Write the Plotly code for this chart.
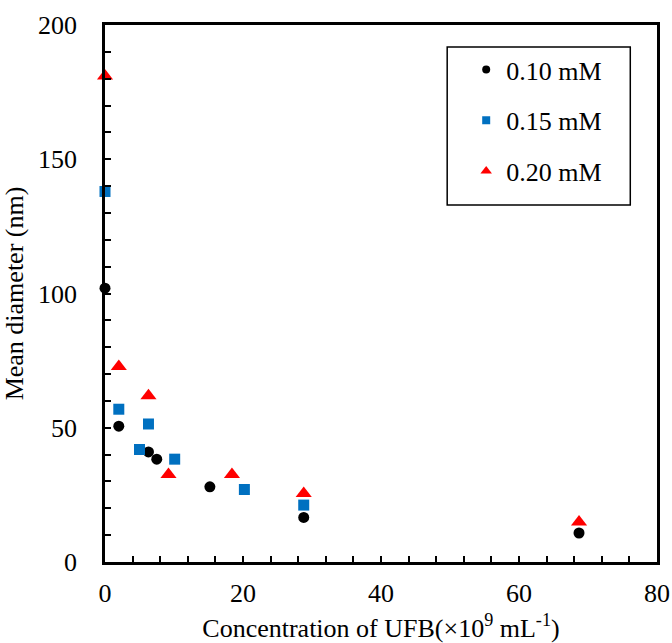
import plotly.graph_objects as go

# Data
x_010 = [0.0, 2.0, 6.3, 7.5, 15.2, 28.8, 68.7]
y_010 = [102, 50.6, 41.0, 38.3, 28.0, 16.6, 10.8]

x_015 = [0.0, 2.0, 5.0, 6.3, 10.1, 20.2, 28.8]
y_015 = [138, 56.9, 41.9, 51.4, 38.3, 27.0, 21.2]

x_020 = [0.0, 2.0, 6.3, 9.2, 18.4, 28.8, 68.7]
y_020 = [181, 72.8, 61.9, 32.6, 32.6, 25.5, 14.9]

names = ["0.10 mM", "0.15 mM", "0.20 mM"]
colors = ["black", "#0070C0", "#FF0000"]
symbols = ["circle", "square", "triangle-up"]

FONT = "Liberation Serif"

fig = go.Figure()
series = [(x_010, y_010), (x_015, y_015), (x_020, y_020)]
sizes = [11, 11, 14]
for i, (xs, ys) in enumerate(series):
    fig.add_trace(go.Scatter(
        x=xs, y=ys, mode="markers", name=names[i], showlegend=False,
        marker=dict(color=colors[i], symbol=symbols[i], size=sizes[i], line=dict(width=0)),
        cliponaxis=False,
    ))
# legend entries (smaller markers as in the reference)
leg_sizes = [8, 8, 10]
for i in range(3):
    fig.add_trace(go.Scatter(
        x=[None], y=[None], mode="markers", name=names[i], legendgroup=f"g{i}",
        marker=dict(color=colors[i], symbol=symbols[i], size=leg_sizes[i], line=dict(width=0)),
    ))

axis_common = dict(
    showgrid=False, zeroline=False, showline=True, linecolor="black", linewidth=2.5,
    mirror=True, ticks="inside", ticklen=6, tickwidth=2, tickcolor="black",
    tickfont=dict(family=FONT, size=26, color="black"), automargin=False,
)

fig.update_xaxes(
    range=[0, 80], dtick=20, tick0=0,
    minor=dict(dtick=4, ticks="inside", ticklen=6, tickwidth=2, tickcolor="black"),
    ticklabelstandoff=6,
    title=dict(text="Concentration of UFB(×10<sup>9</sup> mL<sup>-1</sup>)",
               font=dict(family=FONT, size=26, color="black"), standoff=16),
    **axis_common,
)
fig.update_yaxes(
    range=[0, 200], dtick=50, tick0=0,
    minor=dict(dtick=10, ticks="inside", ticklen=6, tickwidth=2, tickcolor="black"),
    ticklabelstandoff=20,
    title=dict(text="Mean diameter (nm)",
               font=dict(family=FONT, size=26, color="black"), standoff=13),
    **axis_common,
)

# legend frame (plot-area fractions)
PW, PH = 551.7, 536.7
fig.add_shape(type="rect", xref="paper", yref="paper",
              x0=(447 - 105) / PW, x1=(630 - 105) / PW,
              y0=(561.7 - 205) / PH, y1=(561.7 - 47) / PH,
              line=dict(color="black", width=1.5), fillcolor="white", layer="below")

fig.update_layout(
    width=672, height=643,
    margin=dict(l=105, r=15, t=25, b=81, autoexpand=False),
    paper_bgcolor="white", plot_bgcolor="white",
    font=dict(family=FONT, size=26, color="black"),
    legend=dict(
        x=(466 - 105) / PW, y=(561.7 - 46) / PH, xanchor="left", yanchor="top",
        bgcolor="rgba(0,0,0,0)", borderwidth=0,
        traceorder="grouped", tracegroupgap=14, itemwidth=30,
        font=dict(family=FONT, size=26, color="black"),
    ),
)

# remove the default 8px page margin so the figure fills the window exactly
fig.write_html("out.html", config={"displayModeBar": False},
               post_script="document.body.style.margin='0';document.body.style.overflow='hidden';")
